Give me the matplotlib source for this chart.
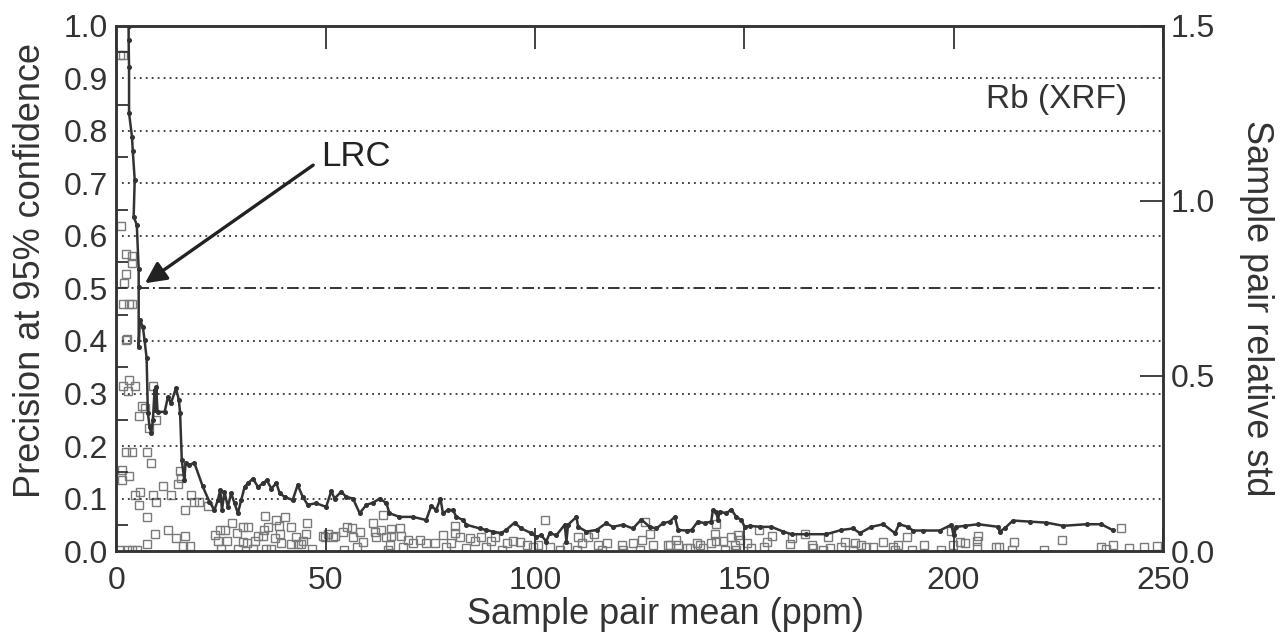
import matplotlib
matplotlib.use("Agg")
import matplotlib.pyplot as plt
from matplotlib.ticker import MultipleLocator

plt.rcParams['font.family'] = ['Liberation Sans', 'DejaVu Sans']

INK = '#333333'

# running precision curve (left axis)
prec_x = [2.9, 2.9, 3.0, 3.0, 3.7, 3.9, 4.35, 4.1, 4.85, 5.3, 5.3, 5.3, 5.6, 6.3, 6.7,
          7.2, 7.5, 7.9, 8.3, 8.7, 9.1, 9.3, 9.5, 9.8, 11.5, 12.3, 13.0, 14.2, 14.9,
          15.2, 15.6, 16.2, 16.5, 17.4, 18.6, 20.6, 22.2, 23.4, 24.2, 24.8, 25.2,
          25.8, 26.6, 27.4, 28.2, 29.0, 29.8, 30.6, 31.4, 32.6, 33.8, 35.0, 35.9,
          37.0, 38.2, 39.0, 40.2, 42.1, 43.3, 44.5, 45.7, 47.7, 50.1, 51.3, 52.1,
          53.7, 54.9, 56.5, 58.1, 59.7, 61.3, 62.9, 64.5, 65.2, 67.6, 70.8, 74.0,
          75.2, 76.4, 77.4, 78.0, 79.2, 80.4, 81.2, 82.8, 83.6, 86.8, 88.4, 89.9,
          91.9, 93.1, 95.1, 96.7, 99.1, 100.3, 101.5, 102.7, 103.5, 105.1, 107.1,
          107.5, 107.9, 109.9, 110.3, 112.3, 114.7, 117.0, 118.6, 121.0, 123.4,
          125.4, 127.4, 129.0, 130.6, 132.2, 133.4, 134.2, 136.2, 137.4, 138.9,
          140.5, 142.1, 142.5, 143.3, 143.7, 144.1, 145.7, 146.9, 148.1, 149.3,
          150.1, 151.3, 153.7, 156.5, 159.3, 161.3, 164.8, 169.6, 173.2, 176.0,
          177.6, 180.4, 183.2, 186.0, 187.0, 189.1, 190.3, 192.7, 196.7, 199.5,
          200.0, 200.7, 202.7, 205.9, 210.7, 211.0, 212.2, 214.2, 218.2, 222.2,
          226.2, 231.8, 235.3, 238.0]
prec_y = [1.0, 0.973, 0.922, 0.834, 0.789, 0.761, 0.707, 0.637, 0.621, 0.537, 0.503,
          0.389, 0.44, 0.427, 0.402, 0.367, 0.263, 0.237, 0.224, 0.25, 0.307, 0.269,
          0.313, 0.265, 0.265, 0.294, 0.281, 0.31, 0.288, 0.262, 0.173, 0.135, 0.167,
          0.164, 0.168, 0.123, 0.094, 0.078, 0.097, 0.116, 0.078, 0.113, 0.084, 0.11,
          0.091, 0.072, 0.097, 0.122, 0.129, 0.138, 0.122, 0.129, 0.135, 0.119,
          0.129, 0.11, 0.103, 0.097, 0.126, 0.103, 0.088, 0.091, 0.084, 0.114, 0.10,
          0.113, 0.103, 0.10, 0.072, 0.088, 0.092, 0.10, 0.091, 0.072, 0.065, 0.065,
          0.059, 0.086, 0.078, 0.10, 0.072, 0.078, 0.078, 0.065, 0.059, 0.05, 0.043,
          0.04, 0.037, 0.034, 0.04, 0.054, 0.043, 0.034, 0.027, 0.03, 0.018, 0.034,
          0.03, 0.05, 0.018, 0.05, 0.065, 0.046, 0.037, 0.04, 0.053, 0.046, 0.05,
          0.043, 0.06, 0.046, 0.043, 0.053, 0.056, 0.065, 0.04, 0.039, 0.04, 0.056,
          0.053, 0.056, 0.078, 0.075, 0.059, 0.075, 0.072, 0.079, 0.065, 0.059,
          0.046, 0.048, 0.046, 0.046, 0.037, 0.032, 0.032, 0.032, 0.04, 0.043,
          0.034, 0.046, 0.051, 0.034, 0.051, 0.046, 0.039, 0.039, 0.039, 0.05,
          0.03, 0.046, 0.048, 0.051, 0.046, 0.037, 0.043, 0.058, 0.056, 0.054,
          0.048, 0.051, 0.051, 0.04]

# individual sample pairs (right axis)
pair_mean = [0.9, 1.6, 1.1, 2.3, 3.8, 3.6, 2.3, 1.8, 1.6, 3.0, 3.8, 2.2, 2.5, 1.5,
             3.0, 2.8, 4.4, 8.7, 6.1, 6.7, 5.3, 9.5, 7.7, 2.2, 3.6, 7.2, 8.3, 1.4,
             3.1, 1.4, 15.1, 15.5, 14.7, 4.4, 5.7, 8.7, 9.5, 11.2, 5.3, 13.1, 16.3,
             17.9, 18.4, 19.7, 21.8, 7.2, 9.3, 12.3, 7.2, 14.3, 16.3, 15.9, 17.5,
             0.8, 2.4, 3.6, 4.8, 23.5, 24.3, 24.7, 25.9, 26.3, 24.9, 27.5, 28.7,
             29.0, 30.3, 31.5, 30.3, 31.2, 32.5, 33.1, 33.8, 35.0, 35.4, 35.2, 36.2,
             35.8, 37.0, 37.8, 38.2, 38.8, 39.4, 39.1, 40.2, 41.8, 41.8, 43.0, 43.3,
             44.2, 44.5, 45.4, 45.2, 46.8, 49.4, 50.6, 52.2, 49.8, 51.8, 54.3, 54.2,
             55.0, 56.2, 56.5, 57.4, 58.2, 59.0, 61.3, 61.7, 62.1, 63.3, 63.7, 64.5,
             64.9, 65.3, 65.7, 65.7, 67.7, 68.0, 68.4, 69.6, 70.8, 72.4, 74.0, 76.0,
             78.0, 78.8, 80.0, 80.8, 80.8, 82.0, 83.6, 84.4, 85.6, 87.2, 88.4, 89.6,
             90.4, 92.0, 93.2, 94.8, 96.4, 98.0, 99.6, 100.7, 102.4, 103.6, 106.0,
             107.6, 110.0, 110.3, 111.2, 112.7, 114.0, 115.1, 115.9, 117.1, 120.7,
             121.1, 123.5, 125.1, 125.5, 126.3, 127.5, 128.3, 131.8, 132.2, 133.8,
             134.2, 136.2, 137.0, 138.6, 139.4, 140.2, 142.1, 142.9, 143.3, 143.3,
             144.9, 145.3, 146.9, 147.7, 148.0, 148.5, 148.9, 150.6, 151.5, 153.6,
             154.6, 155.4, 156.6, 160.9, 161.3, 164.5, 166.1, 166.4, 168.8, 170.0,
             170.4, 173.2, 174.0, 176.0, 176.4, 178.0, 179.2, 180.8, 183.2, 185.6,
             186.0, 186.8, 188.9, 190.0, 192.9, 196.9, 199.5, 199.9, 201.5, 202.7,
             205.5, 205.5, 205.9, 210.2, 210.9, 213.9, 214.4, 221.7, 226.0, 235.3,
             236.4, 238.0, 240.0, 242.0, 245.6, 248.6]
pair_rsd = [1.418, 1.418, 0.929, 0.849, 0.842, 0.824, 0.792, 0.765, 0.705, 0.705,
            0.705, 0.602, 0.606, 0.471, 0.489, 0.458, 0.471, 0.471, 0.413, 0.408,
            0.386, 0.375, 0.351, 0.284, 0.284, 0.284, 0.251, 0.203, 0.215, 0.231,
            0.23, 0.21, 0.192, 0.161, 0.168, 0.161, 0.141, 0.186, 0.131, 0.159,
            0.116, 0.161, 0.141, 0.141, 0.129, 0.096, 0.048, 0.059, 0.02, 0.036,
            0.044, 0.015, 0.015, 0.003, 0.003, 0.003, 0.003, 0.045, 0.03, 0.06,
            0.06, 0.03, 0.005, 0.08, 0.051, 0.005, 0.069, 0.069, 0.027, 0.023,
            0.005, 0.03, 0.044, 0.044, 0.1, 0.059, 0.069, 0.005, 0.006, 0.036,
            0.09, 0.072, 0.023, 0.048, 0.096, 0.069, 0.02, 0.039, 0.02, 0.02, 0.029,
            0.08, 0.048, 0.005, 0.044, 0.048, 0.044, 0.041, 0.041, 0.003, 0.053,
            0.069, 0.065, 0.041, 0.012, 0.053, 0.027, 0.081, 0.053, 0.041, 0.06,
            0.104, 0.041, 0.003, 0.017, 0.044, 0.062, 0.065, 0.044, 0.012, 0.032,
            0.023, 0.032, 0.023, 0.023, 0.045, 0.012, 0.023, 0.072, 0.051, 0.041,
            0.008, 0.038, 0.029, 0.041, 0.012, 0.029, 0.041, 0.003, 0.023, 0.029,
            0.026, 0.017, 0.012, 0.017, 0.09, 0.012, 0.003, 0.012, 0.003, 0.041,
            0.023, 0.041, 0.048, 0.017, 0.003, 0.023, 0.017, 0.003, 0.023, 0.003,
            0.032, 0.084, 0.048, 0.017, 0.017, 0.017, 0.032, 0.017, 0.008, 0.008,
            0.023, 0.017, 0.008, 0.023, 0.048, 0.077, 0.029, 0.029, 0.003, 0.041,
            0.017, 0.003, 0.045, 0.032, 0.023, 0.008, 0.06, 0.012, 0.026, 0.042,
            0.02, 0.036, 0.048, 0.017, 0.008, 0.003, 0.041, 0.008, 0.012, 0.026,
            0.003, 0.023, 0.017, 0.012, 0.012, 0.026, 0.012, 0.003, 0.017, 0.041,
            0.003, 0.017, 0.003, 0.056, 0.017, 0.026, 0.023, 0.012, 0.029, 0.044,
            0.012, 0.011, 0.003, 0.026, 0.003, 0.032, 0.011, 0.005, 0.018, 0.065,
            0.008, 0.011, 0.015]

grid_levels = [0.1, 0.2, 0.3, 0.4, 0.6, 0.7, 0.8, 0.9]
lrc_level = 0.5

fig = plt.figure(figsize=(12.83, 6.37), dpi=100)
ax = fig.add_axes([0.0908, 0.135, 0.8155, 0.8242])
ax2 = ax.twinx()

# background guide lines
for g in grid_levels:
    ax.axhline(g, color=INK, lw=1.3, linestyle=(0, (1, 2.3)), zorder=1)
ax.axhline(lrc_level, color=INK, lw=1.4, linestyle=(0, (6, 2, 1, 2)), zorder=1)

ax2.plot(pair_mean, pair_rsd, linestyle='none', marker='s', markersize=5.3,
         mfc='none', mec='#7a7a7a', mew=1.0, zorder=2)
ax.plot(prec_x, prec_y, color=INK, lw=1.8, marker='o', markersize=2.6, zorder=3)

ax.set_zorder(ax2.get_zorder() + 1)
ax.patch.set_visible(False)

ax.set_xlim(0, 250)
ax.set_ylim(0, 1.0)
ax2.set_ylim(0, 1.5)

ax.set_xticks([0, 50, 100, 150, 200, 250])
ax.set_yticks([0.0, 0.1, 0.2, 0.3, 0.4, 0.5, 0.6, 0.7, 0.8, 0.9, 1.0])
ax.yaxis.set_minor_locator(MultipleLocator(0.05))
ax.yaxis.set_major_formatter(plt.FuncFormatter(lambda v, p: f'{v:.1f}'))
ax2.set_yticks([0.0, 0.5, 1.0, 1.5])
ax2.yaxis.set_major_formatter(plt.FuncFormatter(lambda v, p: f'{v:.1f}'))

ax.tick_params(axis='x', direction='in', length=16.5, width=1.3, top=True,
               labelsize=23, colors=INK, pad=11)
ax.tick_params(axis='y', which='major', length=0, labelsize=23, colors=INK, pad=6)
ax.tick_params(axis='y', which='minor', direction='in', length=8.5, width=1.3,
               color=INK)
ax2.tick_params(axis='y', direction='in', length=16.5, width=1.3,
                labelsize=23, colors=INK, pad=6)

for a in (ax, ax2):
    for s in a.spines.values():
        s.set_color(INK)
        s.set_linewidth(1.8)

ax.set_xlabel('Sample pair mean (ppm)', fontsize=26, color=INK)
ax.xaxis.set_label_coords(0.525, -0.087, transform=ax.transAxes)
ax.xaxis.label.set_va('top')
ax.set_ylabel('Precision at 95% confidence', fontsize=26, color=INK)
ax.yaxis.set_label_coords(-0.065, 0.535, transform=ax.transAxes)
ax2.set_ylabel('Sample pair relative std', fontsize=26, color=INK, rotation=270,
               va='center')
ax2.yaxis.set_label_coords(1.09, 0.463, transform=ax2.transAxes)

ax.text(241.4, 0.86, 'Rb (XRF)', fontsize=24, color=INK, ha='right', va='center')
ax.text(49.0, 0.752, 'LRC', fontsize=25, color='#222222', ha='left', va='center')
ax.annotate('', xy=(6.8, 0.51), xytext=(47.0, 0.735),
            arrowprops=dict(arrowstyle='-|>', color='#222222', lw=2.4,
                            mutation_scale=32, shrinkA=0, shrinkB=0))

fig.savefig('out.png', dpi=100)
